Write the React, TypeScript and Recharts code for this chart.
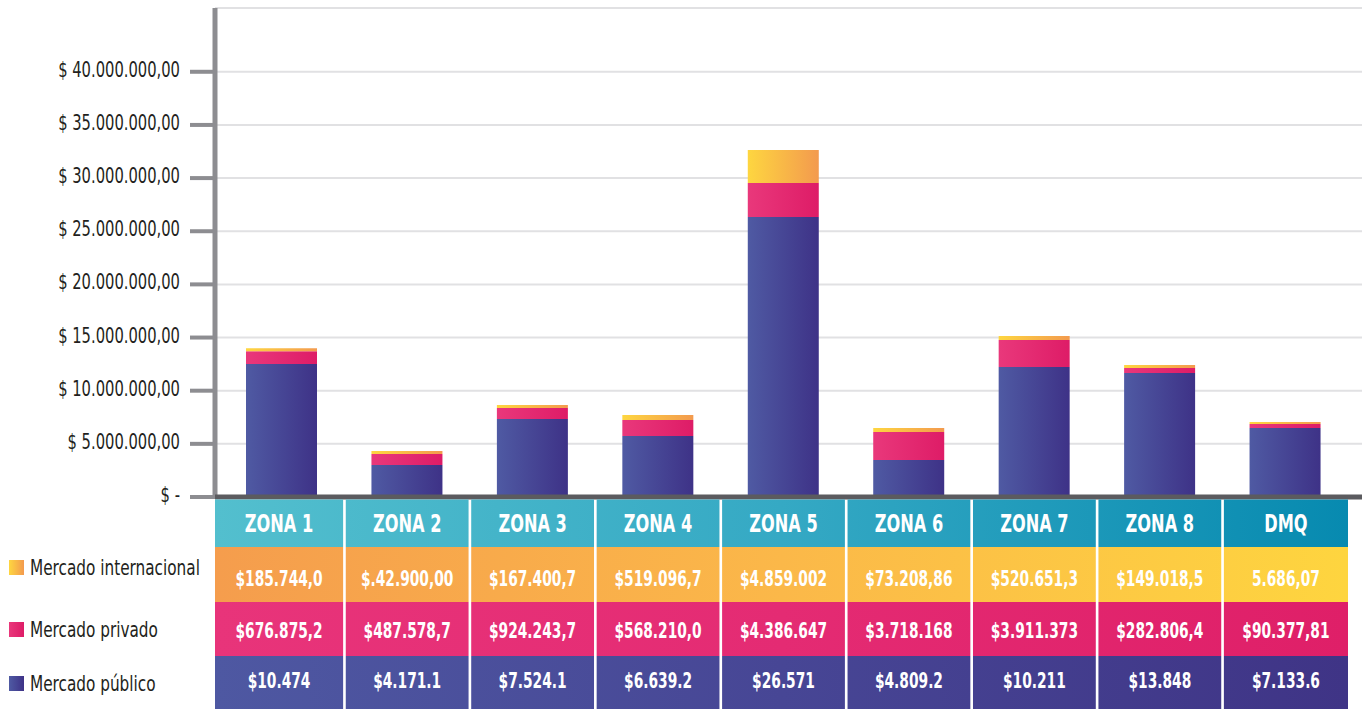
import React from 'react';
import { BarChart, Bar, XAxis, YAxis, CartesianGrid } from 'recharts';

const zones = ['ZONA 1', 'ZONA 2', 'ZONA 3', 'ZONA 4', 'ZONA 5', 'ZONA 6', 'ZONA 7', 'ZONA 8', 'DMQ'];
// bar segment values, in millions of dollars
const publico = [12.5, 3.01, 7.34, 5.74, 26.34, 3.48, 12.23, 11.67, 6.49];
const privado = [1.22, 1.03, 1.03, 1.5, 3.2, 2.63, 2.54, 0.47, 0.38];
const internacional = [0.28, 0.28, 0.28, 0.47, 3.1, 0.38, 0.38, 0.28, 0.19];

// table labels
const intlLabels = ['$185.744,0', '$.42.900,00', '$167.400,7', '$519.096,7', '$4.859.002', '$73.208,86', '$520.651,3', '$149.018,5', '5.686,07'];
const privLabels = ['$676.875,2', '$487.578,7', '$924.243,7', '$568.210,0', '$4.386.647', '$3.718.168', '$3.911.373', '$282.806,4', '$90.377,81'];
const pubLabels = ['$10.474', '$4.171.1', '$7.524.1', '$6.639.2', '$26.571', '$4.809.2', '$10.211', '$13.848', '$7.133.6'];

const seriesNames = ['Mercado internacional', 'Mercado privado', 'Mercado público'];
const yTicks = [0, 5, 10, 15, 20, 25, 30, 35, 40];

const data = zones.map((z, i) => ({
  zone: z,
  publico: publico[i],
  privado: privado[i],
  internacional: internacional[i],
}));

const FONT = "'DejaVu Sans Condensed', 'DejaVu Sans', sans-serif";

const fmtMoney = (v: number) => {
  if (v === 0) return '$ -';
  const s = String(Math.round(v * 1e6)).replace(/\B(?=(\d{3})+(?!\d))/g, '.');
  return '$ ' + s + ',00';
};

const NText = (p: any) => {
  const { x, y, sx, anchor, size, weight, fill, children } = p;
  return (
    <text
      transform={`translate(${x},${y}) scale(${sx},1)`}
      textAnchor={anchor}
      fontFamily={FONT}
      fontSize={size}
      fontWeight={weight || 400}
      fill={fill}
    >
      {children}
    </text>
  );
};

const YTick = (props: any) => {
  const { x, y, payload } = props;
  return (
    <NText x={x} y={y + 5} sx={0.78} anchor="end" size={21} fill="#231f20">
      {fmtMoney(payload.value)}
    </NText>
  );
};

const HALF = 62.7;
const GAP = 1.3;

const TableTick = (props: any) => {
  const { x, index } = props;
  const left = index === 0 ? 215 : x - HALF + GAP;
  const right = index === zones.length - 1 ? 1348 : x + HALF - GAP;
  const w = right - left;
  const cx = (left + right) / 2;
  return (
    <g>
      <rect x={left} y={499.5} width={w} height={47.5} fill="url(#gHead)" />
      <rect x={left} y={547} width={w} height={55} fill="url(#gRowIntl)" />
      <rect x={left} y={602} width={w} height={54} fill="url(#gRowPriv)" />
      <rect x={left} y={656} width={w} height={53} fill="url(#gRowPub)" />
      <NText x={cx} y={532} sx={0.72} anchor="middle" size={25} weight={700} fill="#ffffff">{zones[index]}</NText>
      <NText x={cx} y={586} sx={0.73} anchor="middle" size={21} weight={700} fill="#ffffff">{intlLabels[index]}</NText>
      <NText x={cx} y={638} sx={0.73} anchor="middle" size={21} weight={700} fill="#ffffff">{privLabels[index]}</NText>
      <NText x={cx} y={688} sx={0.73} anchor="middle" size={21} weight={700} fill="#ffffff">{pubLabels[index]}</NText>
    </g>
  );
};

const legendFills = ['url(#gLegIntl)', 'url(#gLegPriv)', 'url(#gLegPub)'];
const legendBaselines = [575, 637, 691];
const legendTops = [560, 622, 676];

export default function App() {
  return (
    <div style={{ position: 'absolute', left: 0, top: 0, width: 1368, height: 709, background: '#ffffff' }}>
      <svg width={0} height={0} style={{ position: 'absolute' }}>
        <defs>
          <linearGradient id="gBlue" x1="0" y1="0" x2="1" y2="0">
            <stop offset="0%" stopColor="#4f5aa3" />
            <stop offset="100%" stopColor="#3e3287" />
          </linearGradient>
          <linearGradient id="gPink" x1="0" y1="0" x2="1" y2="0">
            <stop offset="0%" stopColor="#e9387b" />
            <stop offset="100%" stopColor="#de1c67" />
          </linearGradient>
          <linearGradient id="gGold" x1="0" y1="0" x2="1" y2="0">
            <stop offset="0%" stopColor="#fed640" />
            <stop offset="100%" stopColor="#f39a4e" />
          </linearGradient>
          <linearGradient id="gLegIntl" x1="0" y1="0" x2="1" y2="0">
            <stop offset="0%" stopColor="#fed640" />
            <stop offset="100%" stopColor="#f39a4e" />
          </linearGradient>
          <linearGradient id="gLegPriv" x1="0" y1="0" x2="1" y2="0">
            <stop offset="0%" stopColor="#e9387b" />
            <stop offset="100%" stopColor="#de1c67" />
          </linearGradient>
          <linearGradient id="gLegPub" x1="0" y1="0" x2="1" y2="0">
            <stop offset="0%" stopColor="#4f5aa3" />
            <stop offset="100%" stopColor="#3e3287" />
          </linearGradient>
          <linearGradient id="gHead" gradientUnits="userSpaceOnUse" x1="215" y1="0" x2="1348" y2="0">
            <stop offset="0%" stopColor="#53bfce" />
            <stop offset="50%" stopColor="#35a9c4" />
            <stop offset="100%" stopColor="#078ab0" />
          </linearGradient>
          <linearGradient id="gRowIntl" gradientUnits="userSpaceOnUse" x1="215" y1="0" x2="1348" y2="0">
            <stop offset="0%" stopColor="#f59d4d" />
            <stop offset="50%" stopColor="#fbb849" />
            <stop offset="100%" stopColor="#fed53f" />
          </linearGradient>
          <linearGradient id="gRowPriv" gradientUnits="userSpaceOnUse" x1="215" y1="0" x2="1348" y2="0">
            <stop offset="0%" stopColor="#e8347a" />
            <stop offset="50%" stopColor="#e42b73" />
            <stop offset="100%" stopColor="#df1f68" />
          </linearGradient>
          <linearGradient id="gRowPub" gradientUnits="userSpaceOnUse" x1="215" y1="0" x2="1348" y2="0">
            <stop offset="0%" stopColor="#4e58a2" />
            <stop offset="50%" stopColor="#474695" />
            <stop offset="100%" stopColor="#3f3486" />
          </linearGradient>
        </defs>
      </svg>
      <BarChart
        width={1368}
        height={709}
        data={data}
        margin={{ top: 8, right: 6, bottom: 0, left: 0 }}
        barCategoryGap={0}
      >
        <CartesianGrid vertical={false} stroke="#e1e1e3" strokeWidth={2} />
        <YAxis
          width={215}
          domain={[0, 46]}
          ticks={yTicks}
          allowDataOverflow
          axisLine={{ stroke: '#8d8d91', strokeWidth: 5 }}
          tickLine={{ stroke: '#8d8d91', strokeWidth: 4 }}
          tickSize={25}
          tickMargin={10}
          tick={<YTick />}
        />
        <XAxis
          dataKey="zone"
          height={212}
          padding={{ left: 4, right: 14 }}
          interval={0}
          axisLine={{ stroke: '#5b5b5f', strokeWidth: 5 }}
          tickLine={false}
          tick={<TableTick />}
        />
        <Bar dataKey="publico" stackId="a" barSize={71} fill="url(#gBlue)" isAnimationActive={false} />
        <Bar dataKey="privado" stackId="a" barSize={71} fill="url(#gPink)" isAnimationActive={false} />
        <Bar dataKey="internacional" stackId="a" barSize={71} fill="url(#gGold)" isAnimationActive={false} />
      </BarChart>
      <svg width={1368} height={709} style={{ position: 'absolute', left: 0, top: 0, pointerEvents: 'none' }}>
        {seriesNames.map((n, i) => (
          <g key={n}>
            <rect x={9} y={legendTops[i]} width={15} height={15} fill={legendFills[i]} />
            <NText x={30} y={legendBaselines[i]} sx={0.81} anchor="start" size={21} fill="#231f20">{n}</NText>
          </g>
        ))}
      </svg>
    </div>
  );
}
